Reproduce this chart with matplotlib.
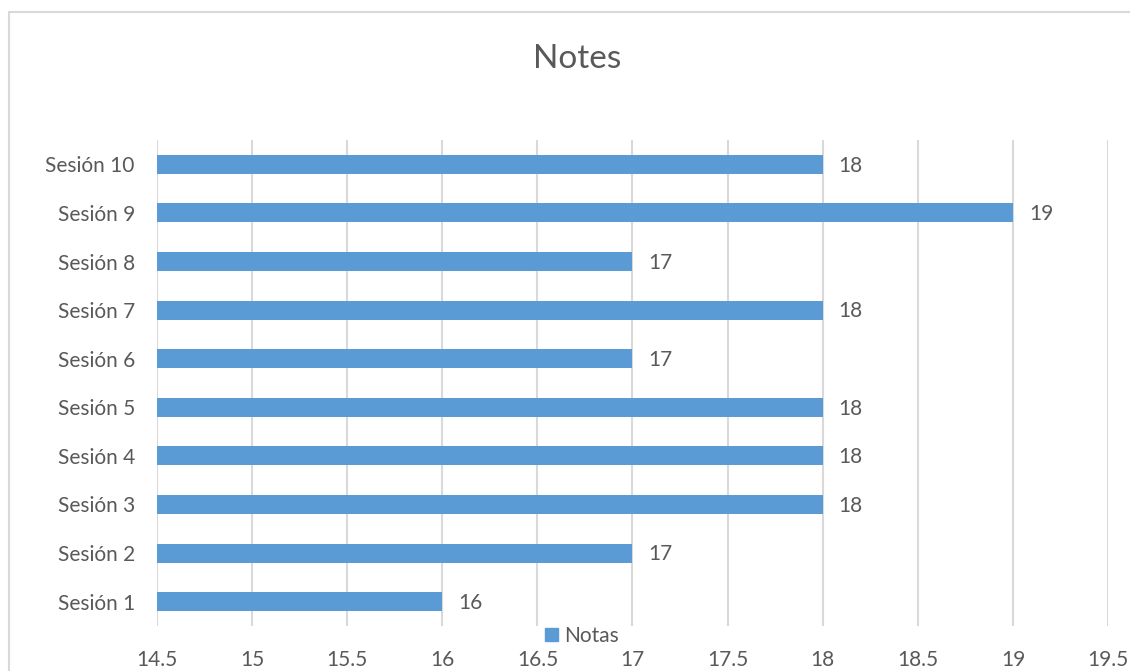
import matplotlib.pyplot as plt
from matplotlib.patches import Rectangle, Patch

sesiones = ['Sesión 1', 'Sesión 2', 'Sesión 3', 'Sesión 4', 'Sesión 5',
            'Sesión 6', 'Sesión 7', 'Sesión 8', 'Sesión 9', 'Sesión 10']
notas = [16, 17, 18, 18, 18, 17, 18, 17, 19, 18]
xticks = [14.5, 15, 15.5, 16, 16.5, 17, 17.5, 18, 18.5, 19, 19.5]
base = 14.5

plt.rcParams['font.family'] = ['Lato', 'DejaVu Sans']
txt = '#595959'
grid = '#d9d9d9'
azul = '#5b9bd5'

fig = plt.figure(figsize=(11.3, 6.71), dpi=100)
ax = fig.add_axes([157 / 1130, 1 - 626 / 671, (1108 - 157) / 1130, 486 / 671])

# chart border (cut off at right/bottom like the screenshot)
fig.patches.append(Rectangle((9 / 1130, -0.1), 1.2, 1.1 - 12 / 671,
                             transform=fig.transFigure, fill=False,
                             edgecolor=grid, linewidth=1.5))

y = range(len(sesiones))
ax.barh(y, [v - base for v in notas], left=base, height=0.39, color=azul)
for i, v in enumerate(notas):
    ax.annotate(str(v), (v, i), xytext=(11.5, -1), textcoords='offset points',
                va='center', ha='left', fontsize=15, color=txt)

ax.set_xlim(14.5, 19.5)
ax.set_ylim(-0.5, len(sesiones) - 0.5)
ax.set_xticks(xticks)
ax.set_xticklabels([f'{t:g}' for t in xticks])
ax.set_yticks(list(y))
ax.set_yticklabels(sesiones)
ax.tick_params(axis='both', length=0, labelsize=15, labelcolor=txt)
ax.tick_params(axis='x', pad=17)
ax.tick_params(axis='y', pad=16)
ax.grid(axis='x', color=grid, linewidth=1.5)
ax.set_axisbelow(True)
for s in ax.spines.values():
    s.set_visible(False)

fig.text(577 / 1130, 1 - 59 / 671, 'Notes', ha='center', va='center',
         fontsize=24, color=txt)

fig.legend(handles=[Patch(color=azul, label='Notas')], loc='center',
           bbox_to_anchor=(582 / 1130, 1 - 636 / 671), frameon=False,
           fontsize=15, labelcolor=txt, handlelength=0.6, handleheight=0.6,
           handletextpad=0.3, borderpad=0)

fig.savefig('out.png', dpi=100)
